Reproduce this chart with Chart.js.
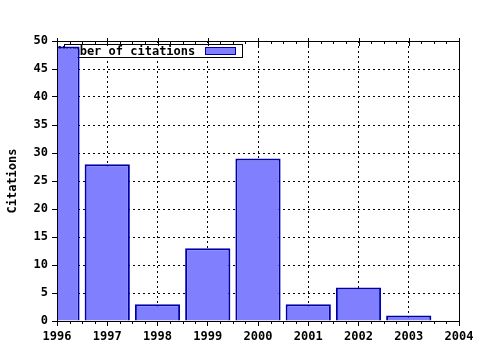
<!DOCTYPE html>
<html>
<head>
<meta charset="utf-8">
<script src="https://cdn.jsdelivr.net/npm/chart.js@4"></script>
<style>
  html, body { margin: 0; padding: 0; background: #fff; }
  #wrap { width: 480px; height: 350px; }
</style>
</head>
<body>
<div id="wrap"><canvas id="citations"></canvas></div>
<script>
const years = [1996, 1997, 1998, 1999, 2000, 2001, 2002, 2003];
const citations = [49, 28, 3, 13, 29, 3, 6, 1];
const seriesName = 'Number of citations';
const yTitle = 'Citations';

const FONT = "'DejaVu Sans Mono', monospace";

// frame on top/right + minor ticks, drawn after everything
const framePlugin = {
  id: 'frame',
  afterDraw(chart) {
    const {ctx, chartArea: a} = chart;
    const x = chart.scales.x;
    ctx.save();
    ctx.strokeStyle = '#000';
    ctx.lineWidth = 1;
    ctx.beginPath();
    ctx.moveTo(a.left, a.top + 0.5);
    ctx.lineTo(a.right + 0.5, a.top + 0.5);
    ctx.lineTo(a.right + 0.5, a.bottom);
    for (let v = x.min; v <= x.max; v += 0.25) {
      const px = Math.round(x.getPixelForValue(v)) + 0.5;
      const major = Math.abs(v - Math.round(v)) < 1e-6;
      // top ticks, pointing inward
      ctx.moveTo(px, a.top - (major ? 3 : 0));
      ctx.lineTo(px, a.top + (major ? 5 : 3));
      // bottom minor ticks
      if (!major) {
        ctx.moveTo(px, a.bottom);
        ctx.lineTo(px, a.bottom + 3);
      }
    }
    ctx.stroke();
    ctx.restore();
  }
};

// legend box sits inside the plot, under the bars
const legendPlugin = {
  id: 'inlineLegend',
  beforeDatasetsDraw(chart) {
    const {ctx, chartArea: a} = chart;
    const ds = chart.data.datasets[0];
    const bx = a.left + 7, by = a.top + 3, bw = 178, bh = 13;
    ctx.save();
    ctx.fillStyle = '#fff';
    ctx.fillRect(bx, by, bw, bh);
    ctx.strokeStyle = '#000';
    ctx.lineWidth = 1;
    ctx.strokeRect(bx + 0.5, by + 0.5, bw, bh);
    ctx.font = 'bold 12px ' + FONT;
    ctx.fillStyle = '#000';
    ctx.textBaseline = 'middle';
    ctx.fillText(ds.label, bx - 6, by + bh / 2 + 1);
    ctx.fillStyle = ds.backgroundColor;
    ctx.fillRect(bx + 141, by + 3, 30, 7);
    ctx.strokeStyle = ds.borderColor;
    ctx.strokeRect(bx + 141.5, by + 3.5, 30, 7);
    ctx.restore();
  }
};

new Chart(document.getElementById('citations'), {
  type: 'bar',
  data: {
    datasets: [{
      label: seriesName,
      data: years.map((y, i) => ({x: y, y: citations[i]})),
      backgroundColor: '#8080ff',
      borderColor: '#0000a8',
      borderWidth: 2,
      barPercentage: 0.9,
      categoryPercentage: 1,
      clip: {left: -1, top: 0, right: 0, bottom: 0}
    }]
  },
  plugins: [legendPlugin, framePlugin],
  options: {
    animation: false,
    responsive: true,
    maintainAspectRatio: false,
    layout: {padding: {top: 41, right: 21, bottom: 0, left: 0}},
    plugins: {
      legend: {display: false},
      tooltip: {enabled: false}
    },
    scales: {
      x: {
        type: 'linear',
        min: 1996,
        max: 2004,
        offset: false,
        afterFit(scale) { scale.height = 29; },
        ticks: {
          stepSize: 1,
          padding: 4,
          color: '#000',
          font: {family: FONT, size: 12, weight: 'bold'},
          callback: v => String(v)
        },
        grid: {color: '#000', tickLength: 5, lineWidth: 1, offset: false},
        border: {color: '#000', width: 1, dash: [2, 3]}
      },
      y: {
        min: 0,
        max: 50,
        afterFit(scale) { scale.width = 57; },
        ticks: {
          stepSize: 5,
          padding: 4,
          color: '#000',
          font: {family: FONT, size: 12, weight: 'bold'}
        },
        title: {
          display: true,
          text: yTitle,
          color: '#000',
          font: {family: FONT, size: 12, weight: 'bold'},
          padding: {top: 6, bottom: 0}
        },
        grid: {color: '#000', tickLength: 5, lineWidth: 1},
        border: {color: '#000', width: 1, dash: [2, 3]}
      }
    }
  }
});
</script>
</body>
</html>
